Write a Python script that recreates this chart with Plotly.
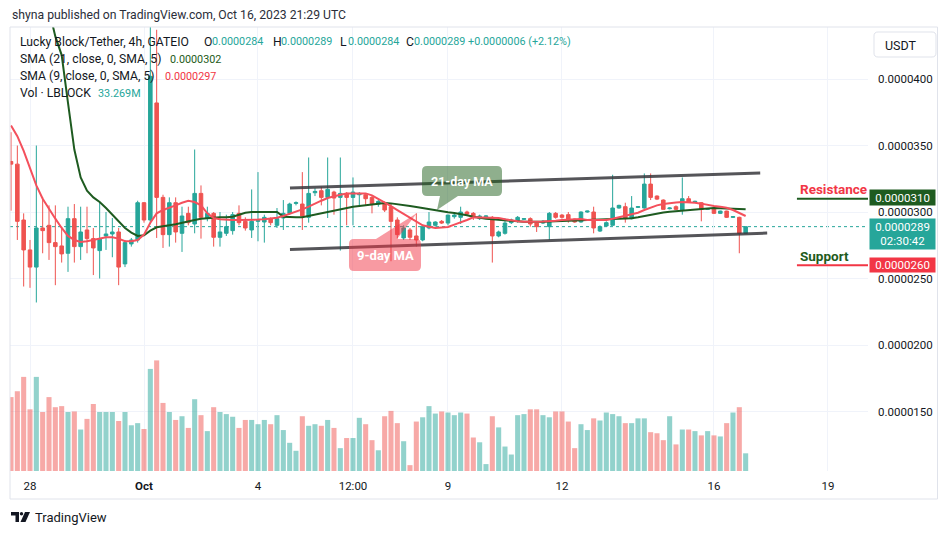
import plotly.graph_objects as go

# ---------------- data (prices in units of 1e-7 USDT, i.e. 338 -> 0.0000338) ----------------
OPEN = [338, 336, 294, 271.5, 258.6, 288, 290, 277, 274.5, 269,
        295, 274, 286.5, 280, 271, 282, 283.5, 285, 261, 276,
        279, 307, 294, 382, 311, 283, 307, 284, 299, 291,
        314, 295.5, 299, 281, 284, 286, 299, 293, 286.5, 293,
        292.5, 295, 290, 295.5, 299, 306.5, 306, 296, 314.5, 316,
        311, 315, 311, 314, 311, 313, 313, 311, 306, 307,
        304, 294, 280.5, 286.5, 282, 279, 288, 290, 293, 291.7,
        296.5, 296, 300, 299, 295, 296.5, 296, 282, 284, 292,
        293, 294.5, 295, 291.7, 291.7, 289, 299, 297.7, 298, 294.7,
        292.5, 300, 300, 285.7, 289.5, 290, 303, 304, 295, 303.5,
        303, 321, 312, 309, 302.5, 304, 301.5, 310, 307.5, 307,
        302, 303, 299, 300.7, 296, 296, 284]
HIGH = [360, 350, 299, 279, 350, 311, 305, 305, 289, 304,
        306, 304, 304, 288, 307.5, 300, 295.5, 288, 279, 280.5,
        308.5, 307.5, 440, 437, 313, 311, 311, 304, 304, 347,
        320, 304, 300, 300, 298, 300, 305, 296, 317, 330,
        298, 296, 303, 309, 307, 308, 330, 341, 318, 319,
        341, 316, 341, 315, 326, 315, 314, 312, 309, 308,
        306, 296, 290, 288, 299, 290, 300, 293, 294, 298,
        300, 304, 301, 300, 298, 297.5, 297, 286, 295.5, 295,
        297, 295.5, 296, 292, 294, 300, 300, 298.5, 300, 295,
        300.5, 301, 304, 290, 293, 328, 305.5, 307, 312, 304.5,
        329, 329, 312.5, 309.5, 303.5, 305, 326, 312, 308.5, 307.5,
        303, 303.5, 301, 301, 297, 296.5, 289]
LOW = [301, 279, 244, 243, 232, 269, 264, 245, 262, 255,
       262, 264, 269, 252.6, 250, 271.5, 266, 245, 258.6, 274,
       277, 292, 292, 280.5, 273, 274, 277, 270, 290, 284,
       280, 293, 274, 274, 282, 283, 290, 286, 280.5, 278,
       277, 290, 288, 286.5, 298, 305, 286.5, 292, 312, 305,
       295.5, 298, 271, 290, 290, 305, 305, 299, 304, 300,
       263, 280, 279, 279, 274, 278, 287, 289, 291, 290,
       295, 291, 297, 294, 294, 295.5, 262, 281, 283, 291,
       292, 294, 289, 285, 291, 279, 295, 295, 292, 292,
       292, 299.5, 284, 285, 289, 290, 302.5, 292, 294.5, 303,
       302.5, 309, 309, 302, 302, 301.5, 298, 307.5, 307, 293,
       301.5, 298.5, 298.5, 295.5, 295.5, 269, 284]
CLOSE = [336, 293, 271.5, 258.6, 288, 286, 277, 274, 268.5, 295,
         274, 285, 280, 273, 280, 283.5, 285, 258.6, 277, 279,
         307, 294, 402, 311, 283, 307, 285, 297, 292, 314,
         296, 299, 281, 285, 289, 298, 292, 288, 293, 293.5,
         296, 292, 295, 299, 306, 307, 297, 314, 315.5, 311,
         317, 310.5, 314, 311, 315, 314, 310, 306, 308, 301.5,
         293, 283, 288, 281, 279, 289, 292.5, 292.5, 291.7, 297.7,
         297.7, 300, 298.5, 296, 297, 297, 282, 285, 291.7, 294,
         296, 295, 291, 289, 293, 299, 296, 296, 294, 292.5,
         300, 300.7, 288, 289, 292, 303, 305, 295, 303, 304,
         321, 311, 309.7, 302, 303, 302, 310, 307.5, 308, 302,
         302.5, 299, 300.7, 296, 296.5, 284, 289]
VOLUME_M = [139, 150, 177, 116, 177, 111, 139, 120, 122, 111,
            112, 78, 98, 126, 111, 111, 111, 94, 111, 86,
            90, 79, 192, 208, 128, 111, 96, 103, 81, 135,
            105, 75, 120, 111, 107, 102, 81, 96, 96, 88,
            96, 88, 105, 77, 53, 38, 103, 85, 88, 85,
            96, 81, 43, 62, 62, 100, 88, 58, 39, 103,
            113, 90, 56, 11, 93, 101, 122, 108, 112, 110,
            105, 110, 108, 63, 54, 13, 103, 82, 46, 31,
            105, 107, 116, 116, 105, 101, 112, 112, 93, 43,
            88, 77, 99, 95, 110, 107, 103, 90, 90, 99,
            99, 73, 71, 58, 103, 50, 78, 78, 75, 67,
            75, 67, 65, 90, 110, 120, 33.269]
SMA21 = [600, 580, 555, 530, 505, 478, 452, 432, 418, 382,
         347, 326, 316, 311, 307.5, 303, 298, 293, 288, 284.5,
         282, 282.5, 286, 288.5, 289.5, 290, 290.8, 291.7, 293, 294,
         295, 295.5, 296, 296, 296, 296.5, 298, 299.5, 300, 300,
         300, 300, 300, 296.5, 296, 296, 296, 297, 298.5, 299.3,
         300, 301, 302, 303, 304, 304.5, 305, 305.8, 306.5, 306.8,
         306.5, 306, 305.2, 304.5, 303.8, 303, 302, 301, 300.3, 299.8,
         299.2, 298.5, 297.5, 296.5, 295.5, 295, 294.5, 294, 293.7, 293.3,
         293, 292.7, 292.5, 292.5, 292.6, 292.8, 293, 293.2, 293.4, 293.6,
         293.8, 294, 294.2, 294.4, 294.6, 295, 295.3, 295, 295.3, 296,
         297, 298, 299, 299.7, 300.2, 300.7, 301.1, 301.5, 302, 302.4,
         302.7, 303, 303, 302.8, 302.5, 302.2, 302]
SMA9 = [365, 357, 346, 333, 320, 310, 302, 295, 288, 282,
        279, 277.5, 278, 279, 280, 281, 281, 280, 278, 278,
        279, 283, 292, 299, 301.5, 303, 305, 307, 308.5, 307.5,
        305, 299, 295.5, 294.5, 294, 294, 294, 294, 294, 294.3,
        294.6, 295, 295.7, 297, 298.5, 300, 302, 304, 306.5, 308.5,
        310.5, 312, 313, 314, 314, 314, 314, 312.5, 310, 307.5,
        304.5, 301.5, 298.5, 295.5, 292.5, 290, 289, 288, 288.3, 288.7,
        290.5, 292, 294, 296, 296, 296, 296, 295.5, 294.5, 293.5,
        293, 292.7, 292.5, 292.6, 292.8, 293, 293.5, 294, 294.2, 294.5,
        294.7, 294, 294, 294, 294, 295, 296, 297, 298, 299.5,
        301.5, 303.5, 305, 306, 306.8, 307.2, 307.5, 307.5, 307, 306.3,
        305.2, 304.5, 304, 303.2, 301.5, 299.5, 297]

# candle index of each time tick (4h candles, first candle = Sep 27 12:00)
TICK_POS = [3, 21, 39, 54, 69, 87, 111, 129]
TICK_LABELS = ["28", "<b>Oct</b>", "4", "12:00", "9", "12", "16", "19"]
PRICE_TICKS = [150, 200, 250, 300, 350, 400]
PRICE_TICK_LABELS = ["0.0000150", "0.0000200", "0.0000250", "0.0000300", "0.0000350", "0.0000400"]

RESISTANCE = 310
SUPPORT = 260
LAST_PRICE = CLOSE[-1]
# channel drawn on the chart: (candle index, price) end points
CHANNEL_UPPER = [(44.05, 318.0), (118.3, 329.3)]
CHANNEL_LOWER = [(44.05, 271.8), (119.4, 284.2)]

assert len(OPEN) == len(HIGH) == len(LOW) == len(CLOSE) == len(VOLUME_M) == len(SMA21) == len(SMA9)
IDX = list(range(len(OPEN)))

# ---------------- geometry ----------------
W, H = 950, 534
PL, PR, PT, PB = 10, 868, 27, 471
XR = [-0.158, 135.32]
YR = [105.3, 439.1]
VOL_MAX = 835


def fx(px):
    return (px - PL) / (PR - PL)


def fy(py):
    return (PB - py) / (PB - PT)


UP = "#26a69a"
DOWN = "#ef5350"
UP_VOL = "rgba(38,166,154,0.5)"
DOWN_VOL = "rgba(239,83,80,0.5)"
GREEN_MA = "#1e5b20"
RED_MA = "#f4505c"
TXT = "#131722"
GRID = "#f0f3fa"
FONT = "Roboto"

fig = go.Figure()

vol_colors = [UP_VOL if c >= o else DOWN_VOL for o, c in zip(OPEN, CLOSE)]
fig.add_trace(go.Bar(x=IDX, y=VOLUME_M, marker=dict(color=vol_colors, line=dict(width=0)),
                     yaxis="y2", hoverinfo="skip"))
fig.add_trace(go.Candlestick(x=IDX, open=OPEN, high=HIGH, low=LOW, close=CLOSE,
                             increasing=dict(line=dict(color=UP, width=1), fillcolor=UP),
                             decreasing=dict(line=dict(color=DOWN, width=1), fillcolor=DOWN),
                             whiskerwidth=0, hoverinfo="skip"))
fig.add_trace(go.Scatter(x=IDX, y=SMA21, mode="lines", line=dict(color=GREEN_MA, width=2), hoverinfo="skip"))
fig.add_trace(go.Scatter(x=IDX, y=SMA9, mode="lines", line=dict(color=RED_MA, width=2), hoverinfo="skip"))

shapes = []
# outer frame
shapes.append(dict(type="rect", xref="paper", yref="paper", x0=fx(10), x1=fx(937.5), y0=fy(27), y1=fy(499),
                   line=dict(color="#e0e3eb", width=1), fillcolor="rgba(0,0,0,0)", layer="above"))
# last price dotted line
shapes.append(dict(type="line", xref="paper", yref="y", x0=0, x1=1, y0=LAST_PRICE, y1=LAST_PRICE,
                   line=dict(color=UP, width=1, dash="dot"), layer="between"))
# channel lines
for seg in (CHANNEL_UPPER, CHANNEL_LOWER):
    shapes.append(dict(type="line", xref="x", yref="y", x0=seg[0][0], y0=seg[0][1], x1=seg[1][0], y1=seg[1][1],
                       line=dict(color="rgba(55,55,60,0.85)", width=3), layer="above"))
# resistance / support lines
shapes.append(dict(type="line", xref="x", yref="y", x0=124.1, x1=XR[1], y0=RESISTANCE, y1=RESISTANCE,
                   line=dict(color=GREEN_MA, width=2), layer="above"))
shapes.append(dict(type="line", xref="x", yref="y", x0=124.1, x1=XR[1], y0=SUPPORT, y1=SUPPORT,
                   line=dict(color="#f23645", width=2), layer="above"))


def rrect_path(x0, y0, x1, y1, r, tail=None, tail_side="bottom"):
    def P(x, y):
        return f"{fx(x):.5f},{fy(y):.5f}"
    d = f"M{P(x0 + r, y0)}"
    if tail and tail_side == "top":
        a, tip, b = tail
        d += f" L{P(a, y0)} L{P(*tip)} L{P(b, y0)}"
    d += f" L{P(x1 - r, y0)} Q{P(x1, y0)} {P(x1, y0 + r)} L{P(x1, y1 - r)} Q{P(x1, y1)} {P(x1 - r, y1)}"
    if tail and tail_side == "bottom":
        a, tip, b = tail
        d += f" L{P(b, y1)} L{P(*tip)} L{P(a, y1)}"
    d += f" L{P(x0 + r, y1)} Q{P(x0, y1)} {P(x0, y1 - r)} L{P(x0, y0 + r)} Q{P(x0, y0)} {P(x0 + r, y0)} Z"
    return d


# callouts
shapes.append(dict(type="path", xref="paper", yref="paper",
                   path=rrect_path(422, 166, 502, 196, 5, tail=(440, (437, 210), 458), tail_side="bottom"),
                   fillcolor="rgba(32,96,28,0.5)", line=dict(width=0), layer="above"))
shapes.append(dict(type="path", xref="paper", yref="paper",
                   path=rrect_path(349, 239, 421, 271, 5, tail=(376, (417, 213), 397), tail_side="top"),
                   fillcolor="rgba(242,54,69,0.5)", line=dict(width=0), layer="above"))
# USDT button
shapes.append(dict(type="path", xref="paper", yref="paper", path=rrect_path(874, 32, 936, 57, 4),
                   fillcolor="white", line=dict(color="#e0e3eb", width=1), layer="above"))


# TradingView logo
def poly(points):
    return "M" + " L".join(f"{fx(x):.5f},{fy(y):.5f}" for x, y in points) + " Z"


shapes.append(dict(type="path", xref="paper", yref="paper",
                   path=poly([(11, 512), (19, 512), (19, 522), (15.5, 522), (15.5, 515.5), (11, 515.5)]),
                   fillcolor=TXT, line=dict(width=0), layer="above"))
shapes.append(dict(type="circle", xref="paper", yref="paper", x0=fx(19.8), x1=fx(23.2), y0=fy(515.5), y1=fy(512),
                   fillcolor=TXT, line=dict(width=0), layer="above"))
shapes.append(dict(type="path", xref="paper", yref="paper",
                   path=poly([(25, 512), (30, 512), (25.5, 522), (20.5, 522)]),
                   fillcolor=TXT, line=dict(width=0), layer="above"))

ann = []


def txt(x, y, text, size=12, color=TXT, xanchor="left", **kw):
    ann.append(dict(x=fx(x), y=fy(y), xref="paper", yref="paper", text=text, showarrow=False,
                    xanchor=xanchor, yanchor="middle", font=dict(size=size, color=color, family=FONT), **kw))


HEAD = 12.2
VALS = 10.8
txt(10, 15, "shyna published on TradingView.com, Oct 16, 2023 21:29 UTC", 12.2, "#2a2e39")
txt(18, 42, "Lucky Block/Tether, 4h, GATEIO", HEAD)
for lx, lab, val in [(202, "O", OPEN[-1]), (271, "H", HIGH[-1]), (338, "L", LOW[-1]), (404, "C", CLOSE[-1])]:
    txt(lx, 42, lab, HEAD)
    txt(lx + 8, 42, f"{val * 1e-7:.7f}", VALS, UP)
txt(466, 42, "+0.0000006 (+2.12%)", VALS, UP)
txt(18, 59, "SMA (21, close, 0, SMA, 5)", HEAD)
txt(168, 59, f"{SMA21[-1] * 1e-7:.7f}", VALS, GREEN_MA)
txt(18, 76, "SMA (9, close, 0, SMA, 5)", HEAD)
txt(163, 76, f"{SMA9[-1] * 1e-7:.7f}", VALS, "#f23645")
txt(18, 93, "Vol · LBLOCK", HEAD)
txt(96, 93, f"{VOLUME_M[-1]:.3f}M", VALS, UP)

# callout texts
txt(462, 181, "<b>21-day MA</b>", 12.5, "white", xanchor="center")
txt(385, 255, "<b>9-day MA</b>", 13, "white", xanchor="center")

# resistance / support labels
txt(798, 189, "<b>Resistance</b>", 13.5, "#f23645")
txt(798, 256, "<b>Support</b>", 13.5, GREEN_MA)


# price-axis boxes
def pbox(yc, text, bg, h):
    ann.append(dict(x=fx(869), y=fy(yc), xref="paper", yref="paper", text=text, showarrow=False,
                    xanchor="left", yanchor="middle", bgcolor=bg, borderpad=1, width=63, height=h,
                    align="center", font=dict(size=11.5, color="white", family=FONT)))


pbox(197.5, f"{RESISTANCE * 1e-7:.7f}", GREEN_MA, 13)
pbox(234, f"{LAST_PRICE * 1e-7:.7f}<br>02:30:42", UP, 28)
pbox(265, f"{SUPPORT * 1e-7:.7f}", "#f23645", 12)

txt(883, 45, "USDT", 12.5)
txt(33, 517, "TradingView", 13, TXT)

fig.update_layout(
    width=W, height=H,
    margin=dict(l=PL, r=W - PR, t=PT, b=H - PB),
    paper_bgcolor="white", plot_bgcolor="white",
    showlegend=False, bargap=0.2, boxgap=0.2,
    font=dict(family=FONT, color=TXT),
    shapes=shapes, annotations=ann,
    xaxis=dict(range=XR, tickmode="array", tickvals=TICK_POS, ticktext=TICK_LABELS,
               showgrid=True, gridcolor=GRID, gridwidth=1, zeroline=False, showline=False, ticks="",
               tickfont=dict(size=11.5, color=TXT), ticklabelstandoff=6,
               rangeslider=dict(visible=False), fixedrange=True),
    yaxis=dict(range=YR, side="right", tickmode="array", tickvals=PRICE_TICKS, ticktext=PRICE_TICK_LABELS,
               showgrid=True, gridcolor=GRID, gridwidth=1, zeroline=False, showline=False, ticks="",
               tickfont=dict(size=11.5, color=TXT), ticklabelstandoff=9, fixedrange=True),
    yaxis2=dict(range=[0, VOL_MAX], overlaying="y", visible=False, fixedrange=True),
)

fig.write_html("out.html")
